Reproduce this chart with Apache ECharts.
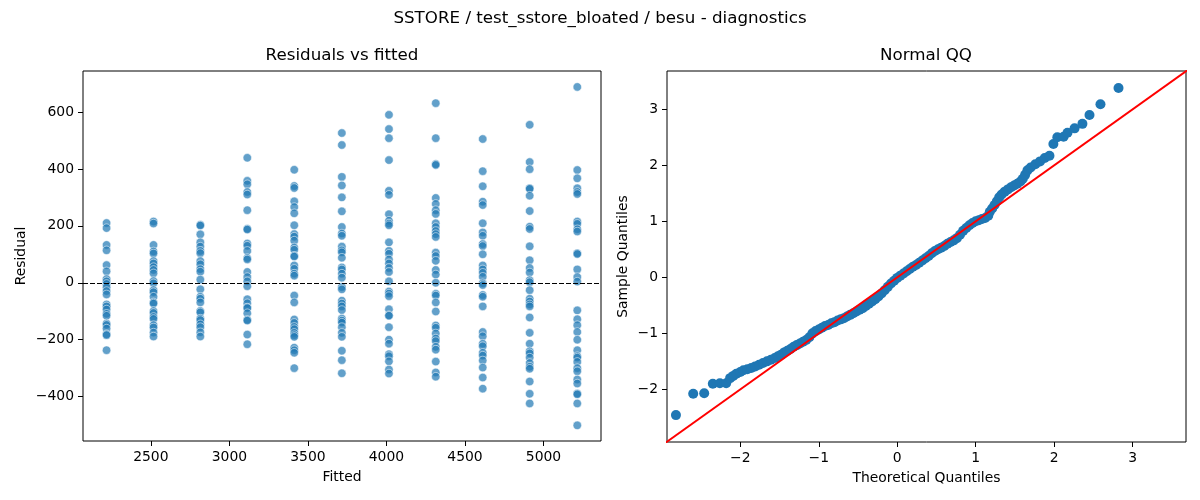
<!DOCTYPE html>
<html>
<head>
<meta charset="utf-8">
<title>SSTORE diagnostics</title>
<script src="https://cdn.jsdelivr.net/npm/echarts@6/dist/echarts.min.js"></script>
<style>
    html, body { margin: 0; padding: 0; background: #fff; }
    #chart { width: 1200px; height: 500px; }
</style>
</head>
<body>
<div id="chart"></div>
<script>
// fitted value of each column in "Residuals vs fitted"
const fittedValues = [2218, 2517, 2815, 3114, 3413, 3716, 4016, 4314, 4613, 4912, 5215];

// residuals read per column, top to bottom
const residuals2218 = [210, 192, 133, 114, 62, 40, 13, 5, -4, -16, -29, -41, -76, -83, -94, -109, -116, -143, -148, -161, -181, -184, -237];
const residuals2517 = [215, 208, 133, 110, 103, 76, 68, 55, 45, 33, 6, -2, -26, -33, -49, -69, -73, -99, -106, -120, -127, -149, -157, -175, -189];
const residuals2815 = [204, 201, 170, 142, 127, 112, 104, 76, 65, 48, 39, 11, -23, -49, -56, -69, -99, -104, -126, -131, -146, -156, -174, -189];
const residuals3114 = [439, 358, 346, 319, 310, 255, 190, 187, 138, 130, 112, 87, 82, 38, 20, 5, -12, -58, -72, -87, -89, -107, -130, -133, -182, -216];
const residuals3413 = [397, 340, 333, 286, 266, 244, 202, 171, 162, 148, 124, 116, 95, 92, 61, 49, 32, 25, -45, -69, -129, -141, -155, -163, -176, -184, -190, -228, -237, -246, -300];
const residuals3716 = [526, 484, 372, 342, 300, 251, 196, 173, 165, 127, 114, 107, 88, 54, 47, 32, 18, -15, -23, -63, -73, -83, -96, -126, -133, -140, -156, -176, -190, -239, -272, -318];
const residuals4016 = [590, 540, 508, 431, 323, 309, 241, 218, 208, 202, 142, 112, 102, 82, 68, 52, 38, 5, -31, -38, -47, -93, -114, -116, -156, -200, -214, -251, -258, -276, -305, -319];
const residuals4314 = [631, 508, 417, 414, 298, 277, 255, 242, 209, 196, 182, 171, 161, 106, 94, 77, 45, 29, 0, -39, -45, -69, -101, -150, -158, -178, -196, -205, -225, -235, -277, -315, -330];
const residuals4613 = [505, 392, 339, 285, 273, 209, 177, 165, 136, 129, 100, 61, 47, 35, 21, -2, -8, -43, -49, -83, -173, -188, -214, -223, -246, -256, -273, -298, -333, -372];
const residuals4912 = [555, 424, 399, 332, 330, 306, 252, 197, 189, 128, 79, 52, 36, 9, 2, -26, -56, -66, -76, -83, -122, -176, -214, -241, -248, -263, -282, -295, -302, -347, -390, -424];
const residuals5215 = [688, 396, 367, 332, 319, 312, 215, 207, 188, 180, 104, 101, 47, 20, 4, -97, -128, -149, -173, -200, -237, -258, -263, -278, -300, -311, -340, -354, -389, -392, -424, -501];

// normal QQ points: [theoretical, sample]
const qqLowTail = [[-2.82, -2.46], [-2.60, -2.08], [-2.46, -2.07], [-2.35, -1.90], [-2.26, -1.89], [-2.18, -1.89], [-2.13, -1.80]];
const qqBody = [
    [-2.09, -1.76], [-2.05, -1.72], [-2.00, -1.69], [-1.96, -1.66], [-1.91, -1.64], [-1.86, -1.62], [-1.81, -1.59],
    [-1.76, -1.56], [-1.71, -1.53], [-1.66, -1.50], [-1.61, -1.47], [-1.56, -1.44], [-1.52, -1.41], [-1.48, -1.38],
    [-1.44, -1.34], [-1.40, -1.31], [-1.36, -1.28], [-1.32, -1.24], [-1.28, -1.21], [-1.24, -1.18], [-1.20, -1.15],
    [-1.16, -1.12], [-1.12, -1.07], [-1.08, -1.00], [-1.04, -0.96], [-1.00, -0.93], [-0.96, -0.90], [-0.92, -0.87],
    [-0.88, -0.85], [-0.84, -0.82], [-0.80, -0.80], [-0.76, -0.77], [-0.72, -0.75], [-0.68, -0.73], [-0.64, -0.70],
    [-0.60, -0.67], [-0.56, -0.64], [-0.52, -0.61], [-0.48, -0.58], [-0.44, -0.55], [-0.40, -0.51], [-0.36, -0.47],
    [-0.32, -0.43], [-0.28, -0.39], [-0.24, -0.34], [-0.20, -0.29], [-0.16, -0.23], [-0.12, -0.17], [-0.08, -0.11],
    [-0.04, -0.06], [0.00, -0.01], [0.04, 0.03], [0.08, 0.07], [0.12, 0.11], [0.16, 0.15], [0.20, 0.19],
    [0.24, 0.22], [0.28, 0.26], [0.32, 0.30], [0.36, 0.34], [0.40, 0.38], [0.44, 0.43], [0.48, 0.47],
    [0.52, 0.50], [0.56, 0.53], [0.60, 0.56], [0.64, 0.60], [0.68, 0.63], [0.72, 0.66], [0.76, 0.70],
    [0.80, 0.76], [0.84, 0.83], [0.88, 0.88], [0.92, 0.93], [0.96, 0.97], [1.00, 1.00], [1.04, 1.02],
    [1.08, 1.04], [1.12, 1.06], [1.16, 1.10], [1.18, 1.17], [1.21, 1.23], [1.24, 1.29], [1.27, 1.36],
    [1.30, 1.43], [1.33, 1.48], [1.37, 1.53], [1.41, 1.57], [1.45, 1.61], [1.49, 1.64], [1.53, 1.67],
    [1.57, 1.71], [1.60, 1.76], [1.63, 1.83], [1.66, 1.91], [1.70, 1.96], [1.76, 2.02], [1.82, 2.07],
    [1.88, 2.13], [1.94, 2.17]
];
const qqHighTail = [[1.99, 2.38], [2.04, 2.50], [2.12, 2.51], [2.17, 2.58], [2.26, 2.66], [2.36, 2.74], [2.45, 2.90], [2.59, 3.09], [2.82, 3.38]];

// 45 degree reference line
const qqLine = [[-3, -3], [3.7, 3.7]];

// tick labels
const fittedTicks = [2500, 3000, 3500, 4000, 4500, 5000];
const residualTicks = [-400, -200, 0, 200, 400, 600];
const theoreticalTicks = [-2, -1, 0, 1, 2, 3];
const sampleTicks = [-2, -1, 0, 1, 2, 3];

(function (echarts) {
    'use strict';

    const FONT = 'DejaVu Sans';
    const BLUE = '#1f77b4';

    const residualColumns = [
        residuals2218, residuals2517, residuals2815, residuals3114, residuals3413, residuals3716,
        residuals4016, residuals4314, residuals4613, residuals4912, residuals5215
    ];

    const residualPoints = [];
    fittedValues.forEach((fitted, i) => {
        residualColumns[i].forEach(r => residualPoints.push([fitted, r]));
    });

    const qqPoints = qqLowTail.concat(qqBody, qqHighTail);

    // matplotlib style minus sign
    const minus = value => String(value).replace('-', '\u2212');

    const axisCommon = (ticks, name, nameGap) => ({
        type: 'value',
        name: name,
        nameLocation: 'middle',
        nameGap: nameGap,
        nameTextStyle: { color: '#000', fontSize: 13.9, fontFamily: FONT },
        // box is drawn by the grid border, keep ticks on the edge
        axisLine: { show: false, onZero: false },
        axisTick: { show: true, length: 5, lineStyle: { color: '#000', width: 1 }, customValues: ticks },
        axisLabel: { color: '#000', fontSize: 13.9, fontFamily: FONT, margin: 9, formatter: minus, customValues: ticks },
        splitLine: { show: false }
    });

    const titleStyle = { color: '#000', fontSize: 16.7, fontWeight: 'normal', fontFamily: FONT };

    const options = {
        animation: false,
        backgroundColor: '#fff',
        title: [
            { text: 'SSTORE / test_sstore_bloated / besu - diagnostics', left: 600, top: 10, padding: 0, textAlign: 'center', textStyle: titleStyle },
            { text: 'Residuals vs fitted', left: 342, top: 47, padding: 0, textAlign: 'center', textStyle: titleStyle },
            { text: 'Normal QQ', left: 926, top: 47, padding: 0, textAlign: 'center', textStyle: titleStyle }
        ],
        grid: [
            { left: 83, top: 71, width: 518, height: 370, show: true, borderColor: '#000', borderWidth: 1, backgroundColor: 'transparent' },
            { left: 667, top: 71, width: 519, height: 371, show: true, borderColor: '#000', borderWidth: 1, backgroundColor: 'transparent' }
        ],
        xAxis: [
            Object.assign(axisCommon(fittedTicks, 'Fitted', 29), { gridIndex: 0, min: 2068, max: 5366 }),
            Object.assign(axisCommon(theoreticalTicks, 'Theoretical Quantiles', 29), { gridIndex: 1, min: -2.934, max: 3.68 })
        ],
        yAxis: [
            Object.assign(axisCommon(residualTicks, 'Residual', 55), { gridIndex: 0, min: -556, max: 744 }),
            Object.assign(axisCommon(sampleTicks, 'Sample Quantiles', 37), { gridIndex: 1, min: -2.94, max: 3.684 })
        ],
        series: [
            {
                name: 'residuals',
                type: 'scatter',
                xAxisIndex: 0,
                yAxisIndex: 0,
                data: residualPoints,
                symbolSize: 8.5,
                itemStyle: { color: BLUE, opacity: 0.7, borderColor: '#fff', borderWidth: 0.75 },
                markLine: {
                    silent: true,
                    symbol: 'none',
                    label: { show: false },
                    lineStyle: { color: '#000', width: 1, type: [5, 2] },
                    data: [{ yAxis: 0 }]
                }
            },
            {
                name: 'qq',
                type: 'scatter',
                xAxisIndex: 1,
                yAxisIndex: 1,
                data: qqPoints,
                symbolSize: 10,
                itemStyle: { color: BLUE, opacity: 1 }
            },
            {
                name: 'qqline',
                type: 'line',
                xAxisIndex: 1,
                yAxisIndex: 1,
                data: qqLine,
                symbol: 'none',
                clip: true,
                z: 5,
                lineStyle: { color: '#ff0000', width: 2 }
            }
        ]
    };

    const chart = echarts.init(document.getElementById('chart'), null, { renderer: 'canvas' });
    chart.setOption(options);
})(echarts);
</script>
</body>
</html>
